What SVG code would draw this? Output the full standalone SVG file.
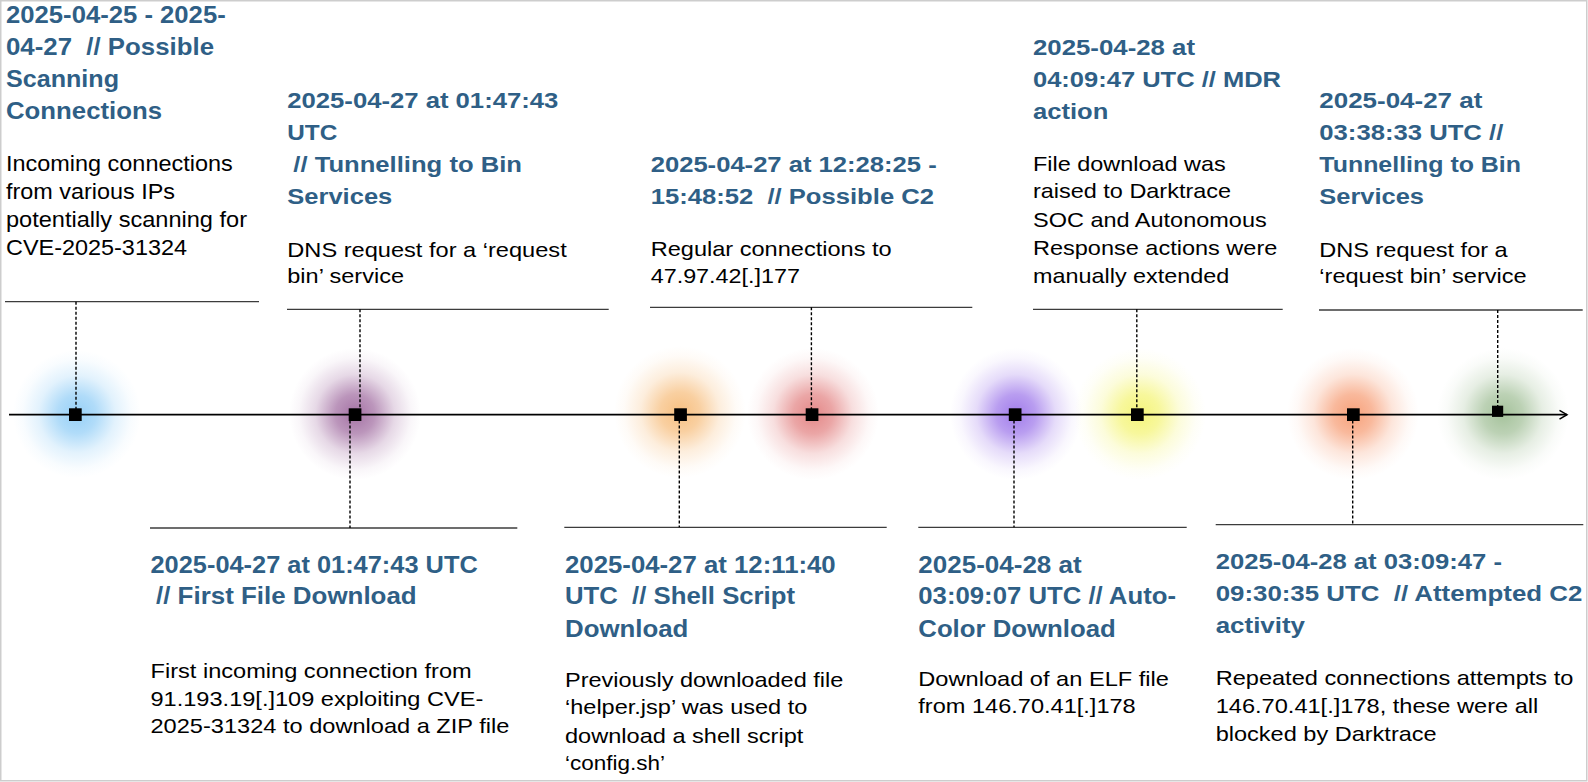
<svg xmlns="http://www.w3.org/2000/svg" width="1588" height="782" viewBox="0 0 1588 782">
<style>
.h{font-family:"Liberation Sans",Arial,sans-serif;font-weight:700;fill:#2F5F86;white-space:pre}
.h1{font-size:24px}.h2{font-size:22.5px}.h3{font-size:24.5px}
.b{font-family:"Liberation Sans",Arial,sans-serif;fill:#000;font-size:21px;white-space:pre}
.rule{stroke:#3c3c3c;stroke-width:1.3;fill:none}
.dot{stroke:#000;stroke-width:1.4;stroke-dasharray:3 2;fill:none}
.mk{fill:#000}
</style>
<defs>
<radialGradient id="gBlue"><stop offset="0" stop-color="#7cc4f5" stop-opacity="0.8"/><stop offset="0.3" stop-color="#7cc4f5" stop-opacity="0.6"/><stop offset="0.6" stop-color="#7cc4f5" stop-opacity="0.22"/><stop offset="0.85" stop-color="#7cc4f5" stop-opacity="0.05"/><stop offset="1" stop-color="#7cc4f5" stop-opacity="0"/></radialGradient>
<radialGradient id="gPurple"><stop offset="0" stop-color="#8e4f8e" stop-opacity="0.8"/><stop offset="0.3" stop-color="#8e4f8e" stop-opacity="0.6"/><stop offset="0.6" stop-color="#8e4f8e" stop-opacity="0.22"/><stop offset="0.85" stop-color="#8e4f8e" stop-opacity="0.05"/><stop offset="1" stop-color="#8e4f8e" stop-opacity="0"/></radialGradient>
<radialGradient id="gOrange"><stop offset="0" stop-color="#f5b062" stop-opacity="0.8"/><stop offset="0.3" stop-color="#f5b062" stop-opacity="0.6"/><stop offset="0.6" stop-color="#f5b062" stop-opacity="0.22"/><stop offset="0.85" stop-color="#f5b062" stop-opacity="0.05"/><stop offset="1" stop-color="#f5b062" stop-opacity="0"/></radialGradient>
<radialGradient id="gRed"><stop offset="0" stop-color="#dd6a6a" stop-opacity="0.8"/><stop offset="0.3" stop-color="#dd6a6a" stop-opacity="0.6"/><stop offset="0.6" stop-color="#dd6a6a" stop-opacity="0.22"/><stop offset="0.85" stop-color="#dd6a6a" stop-opacity="0.05"/><stop offset="1" stop-color="#dd6a6a" stop-opacity="0"/></radialGradient>
<radialGradient id="gViolet"><stop offset="0" stop-color="#8a5ce6" stop-opacity="0.8"/><stop offset="0.3" stop-color="#8a5ce6" stop-opacity="0.6"/><stop offset="0.6" stop-color="#8a5ce6" stop-opacity="0.22"/><stop offset="0.85" stop-color="#8a5ce6" stop-opacity="0.05"/><stop offset="1" stop-color="#8a5ce6" stop-opacity="0"/></radialGradient>
<radialGradient id="gYellow"><stop offset="0" stop-color="#f2f25a" stop-opacity="0.8"/><stop offset="0.3" stop-color="#f2f25a" stop-opacity="0.6"/><stop offset="0.6" stop-color="#f2f25a" stop-opacity="0.22"/><stop offset="0.85" stop-color="#f2f25a" stop-opacity="0.05"/><stop offset="1" stop-color="#f2f25a" stop-opacity="0"/></radialGradient>
<radialGradient id="gCoral"><stop offset="0" stop-color="#f58a5a" stop-opacity="0.8"/><stop offset="0.3" stop-color="#f58a5a" stop-opacity="0.6"/><stop offset="0.6" stop-color="#f58a5a" stop-opacity="0.22"/><stop offset="0.85" stop-color="#f58a5a" stop-opacity="0.05"/><stop offset="1" stop-color="#f58a5a" stop-opacity="0"/></radialGradient>
<radialGradient id="gGreen"><stop offset="0" stop-color="#8fb383" stop-opacity="0.8"/><stop offset="0.3" stop-color="#8fb383" stop-opacity="0.6"/><stop offset="0.6" stop-color="#8fb383" stop-opacity="0.22"/><stop offset="0.85" stop-color="#8fb383" stop-opacity="0.05"/><stop offset="1" stop-color="#8fb383" stop-opacity="0"/></radialGradient>
<marker id="arrow" markerUnits="userSpaceOnUse" markerWidth="12" markerHeight="12" refX="10" refY="6" orient="auto"><path d="M2.5,1.6 L10,6 L2.5,10.4" fill="none" stroke="#000" stroke-width="1.5"/></marker>
</defs>
<rect x="0.75" y="0.75" width="1586" height="780" fill="#fff" stroke="#cdcdcd" stroke-width="1.5"/>

<g id="glows">
<circle cx="77" cy="414" r="64" fill="url(#gBlue)"/>
<circle cx="355" cy="414" r="66" fill="url(#gPurple)"/>
<circle cx="680" cy="412" r="66" fill="url(#gOrange)"/>
<circle cx="813" cy="414" r="66" fill="url(#gRed)"/>
<circle cx="1016" cy="414" r="66" fill="url(#gViolet)"/>
<circle cx="1140" cy="414" r="66" fill="url(#gYellow)"/>
<circle cx="1353" cy="414" r="66" fill="url(#gCoral)"/>
<circle cx="1503" cy="414" r="66" fill="url(#gGreen)"/>
</g>

<g id="connectors">
<line x1="9" y1="414.7" x2="1567" y2="414.7" stroke="#000" stroke-width="1.7" marker-end="url(#arrow)"/>
<line class="rule" x1="5" y1="301.7" x2="259" y2="301.7"/>
<line class="rule" x1="287" y1="309.3" x2="608.7" y2="309.3"/>
<line class="rule" x1="650" y1="307.3" x2="972.3" y2="307.3"/>
<line class="rule" x1="1033" y1="309.3" x2="1282.7" y2="309.3"/>
<line class="rule" x1="1319" y1="310" x2="1582.7" y2="310"/>
<line class="rule" x1="150" y1="528" x2="517.3" y2="528"/>
<line class="rule" x1="564.3" y1="527.3" x2="886.7" y2="527.3"/>
<line class="rule" x1="918.3" y1="527.3" x2="1186.7" y2="527.3"/>
<line class="rule" x1="1215.7" y1="524.7" x2="1583.3" y2="524.7"/>
<line class="dot" x1="76" y1="301.7" x2="76" y2="409"/>
<line class="dot" x1="360" y1="309.3" x2="360" y2="409"/>
<line class="dot" x1="811.4" y1="307.3" x2="811.4" y2="409"/>
<line class="dot" x1="1136.8" y1="309.3" x2="1136.8" y2="409"/>
<line class="dot" x1="1497.7" y1="310" x2="1497.7" y2="406"/>
<line class="dot" x1="350" y1="420.5" x2="350" y2="528"/>
<line class="dot" x1="679.3" y1="420.5" x2="679.3" y2="527.3"/>
<line class="dot" x1="1014" y1="420.5" x2="1014" y2="527.3"/>
<line class="dot" x1="1352.7" y1="420.5" x2="1352.7" y2="524.7"/>
</g>

<g id="markers">
<rect class="mk" x="69" y="408.3" width="12.7" height="12.7"/>
<rect class="mk" x="348.7" y="408.3" width="12.7" height="12.7"/>
<rect class="mk" x="674.2" y="408.3" width="12.7" height="12.7"/>
<rect class="mk" x="805.7" y="408.3" width="12.7" height="12.7"/>
<rect class="mk" x="1008.8" y="408.3" width="12.7" height="12.7"/>
<rect class="mk" x="1131" y="408.3" width="12.7" height="12.7"/>
<rect class="mk" x="1347" y="408.3" width="12.7" height="12.7"/>
<rect class="mk" x="1492" y="405.7" width="11.2" height="11.2"/>
</g>

<g id="node-scanning">
<text class="h h1" x="6" y="23.3" textLength="219.7" lengthAdjust="spacingAndGlyphs">2025-04-25 - 2025-</text>
<text class="h h1" x="6" y="55" textLength="208" lengthAdjust="spacingAndGlyphs">04-27  // Possible</text>
<text class="h h1" x="6" y="87.3" textLength="113" lengthAdjust="spacingAndGlyphs">Scanning</text>
<text class="h h1" x="6" y="119.3" textLength="156" lengthAdjust="spacingAndGlyphs">Connections</text>
<text class="b" x="6" y="171" style="font-size:21.8px" textLength="226.7" lengthAdjust="spacingAndGlyphs">Incoming connections</text>
<text class="b" x="6" y="198.5" style="font-size:21.8px" textLength="169" lengthAdjust="spacingAndGlyphs">from various IPs</text>
<text class="b" x="6" y="226.6" style="font-size:21.8px" textLength="241" lengthAdjust="spacingAndGlyphs">potentially scanning for</text>
<text class="b" x="6" y="255" style="font-size:21.8px" textLength="181" lengthAdjust="spacingAndGlyphs">CVE-2025-31324</text>
</g>

<g id="node-tunnelling-1">
<text class="h h2" x="287.3" y="108.3" textLength="271" lengthAdjust="spacingAndGlyphs">2025-04-27 at 01:47:43</text>
<text class="h h2" x="287.3" y="140" textLength="50" lengthAdjust="spacingAndGlyphs">UTC</text>
<text class="h h2" x="293.3" y="171.7" textLength="228.7" lengthAdjust="spacingAndGlyphs">// Tunnelling to Bin</text>
<text class="h h2" x="287.3" y="204" textLength="105" lengthAdjust="spacingAndGlyphs">Services</text>
<text class="b" x="287.3" y="256.7" textLength="279.4" lengthAdjust="spacingAndGlyphs">DNS request for a ‘request</text>
<text class="b" x="287.3" y="283.3" textLength="116.7" lengthAdjust="spacingAndGlyphs">bin’ service</text>
</g>

<g id="node-possible-c2">
<text class="h h2" x="650.7" y="171.7" textLength="286" lengthAdjust="spacingAndGlyphs">2025-04-27 at 12:28:25 -</text>
<text class="h h2" x="650.7" y="204" textLength="283.3" lengthAdjust="spacingAndGlyphs">15:48:52  // Possible C2</text>
<text class="b" x="650.7" y="256" textLength="241" lengthAdjust="spacingAndGlyphs">Regular connections to</text>
<text class="b" x="650.7" y="282.7" textLength="149.3" lengthAdjust="spacingAndGlyphs">47.97.42[.]177</text>
</g>

<g id="node-mdr-action">
<text class="h h2" x="1033" y="55" textLength="162" lengthAdjust="spacingAndGlyphs">2025-04-28 at</text>
<text class="h h2" x="1033" y="87.3" textLength="248" lengthAdjust="spacingAndGlyphs">04:09:47 UTC // MDR</text>
<text class="h h2" x="1033" y="119.3" textLength="75.3" lengthAdjust="spacingAndGlyphs">action</text>
<text class="b" x="1033" y="170.7" textLength="192.7" lengthAdjust="spacingAndGlyphs">File download was</text>
<text class="b" x="1033" y="198.3" textLength="198" lengthAdjust="spacingAndGlyphs">raised to Darktrace</text>
<text class="b" x="1033" y="226.7" textLength="233.7" lengthAdjust="spacingAndGlyphs">SOC and Autonomous</text>
<text class="b" x="1033" y="255" textLength="244.3" lengthAdjust="spacingAndGlyphs">Response actions were</text>
<text class="b" x="1033" y="283.3" textLength="196.3" lengthAdjust="spacingAndGlyphs">manually extended</text>
</g>

<g id="node-tunnelling-2">
<text class="h h2" x="1319.3" y="108.3" textLength="163" lengthAdjust="spacingAndGlyphs">2025-04-27 at</text>
<text class="h h2" x="1319.3" y="140" textLength="184" lengthAdjust="spacingAndGlyphs">03:38:33 UTC //</text>
<text class="h h2" x="1319.3" y="171.7" textLength="201.7" lengthAdjust="spacingAndGlyphs">Tunnelling to Bin</text>
<text class="h h2" x="1319.3" y="204" textLength="104.7" lengthAdjust="spacingAndGlyphs">Services</text>
<text class="b" x="1319.3" y="256.7" textLength="188.4" lengthAdjust="spacingAndGlyphs">DNS request for a</text>
<text class="b" x="1319.3" y="283.3" textLength="207.4" lengthAdjust="spacingAndGlyphs">‘request bin’ service</text>
</g>

<g id="node-first-download">
<text class="h h3" x="150.5" y="572.7" textLength="327.2" lengthAdjust="spacingAndGlyphs">2025-04-27 at 01:47:43 UTC</text>
<text class="h h3" x="156" y="604.3" textLength="260.7" lengthAdjust="spacingAndGlyphs">// First File Download</text>
<text class="b" x="150.5" y="678.3" textLength="321.2" lengthAdjust="spacingAndGlyphs">First incoming connection from</text>
<text class="b" x="150.5" y="705.7" textLength="332.8" lengthAdjust="spacingAndGlyphs">91.193.19[.]109 exploiting CVE-</text>
<text class="b" x="150.5" y="733.3" textLength="358.8" lengthAdjust="spacingAndGlyphs">2025-31324 to download a ZIP file</text>
</g>

<g id="node-shell-script">
<text class="h h3" x="565" y="572.7" textLength="270.7" lengthAdjust="spacingAndGlyphs">2025-04-27 at 12:11:40</text>
<text class="h h3" x="565" y="604.3" textLength="230" lengthAdjust="spacingAndGlyphs">UTC  // Shell Script</text>
<text class="h h3" x="565" y="636.7" textLength="123.3" lengthAdjust="spacingAndGlyphs">Download</text>
<text class="b" x="565" y="686.7" textLength="278.3" lengthAdjust="spacingAndGlyphs">Previously downloaded file</text>
<text class="b" x="565" y="714" textLength="242.3" lengthAdjust="spacingAndGlyphs">‘helper.jsp’ was used to</text>
<text class="b" x="565" y="742.7" textLength="238.3" lengthAdjust="spacingAndGlyphs">download a shell script</text>
<text class="b" x="565" y="770" textLength="100" lengthAdjust="spacingAndGlyphs">‘config.sh’</text>
</g>

<g id="node-auto-color">
<text class="h h3" x="918.3" y="572.7" textLength="163.4" lengthAdjust="spacingAndGlyphs">2025-04-28 at</text>
<text class="h h3" x="918.3" y="604.3" textLength="257.7" lengthAdjust="spacingAndGlyphs">03:09:07 UTC // Auto-</text>
<text class="h h3" x="918.3" y="636.7" textLength="197.4" lengthAdjust="spacingAndGlyphs">Color Download</text>
<text class="b" x="918.3" y="685.7" textLength="250.7" lengthAdjust="spacingAndGlyphs">Download of an ELF file</text>
<text class="b" x="918.3" y="712.7" textLength="217.4" lengthAdjust="spacingAndGlyphs">from 146.70.41[.]178</text>
</g>

<g id="node-attempted-c2">
<text class="h h2" x="1215.7" y="569.3" textLength="286.3" lengthAdjust="spacingAndGlyphs">2025-04-28 at 03:09:47 -</text>
<text class="h h2" x="1215.7" y="601" textLength="366.6" lengthAdjust="spacingAndGlyphs">09:30:35 UTC  // Attempted C2</text>
<text class="h h2" x="1215.7" y="632.7" textLength="89.3" lengthAdjust="spacingAndGlyphs">activity</text>
<text class="b" x="1215.7" y="685" textLength="357.6" lengthAdjust="spacingAndGlyphs">Repeated connections attempts to</text>
<text class="b" x="1215.7" y="712.7" textLength="322.6" lengthAdjust="spacingAndGlyphs">146.70.41[.]178, these were all</text>
<text class="b" x="1215.7" y="740.7" textLength="221" lengthAdjust="spacingAndGlyphs">blocked by Darktrace</text>
</g>
</svg>
